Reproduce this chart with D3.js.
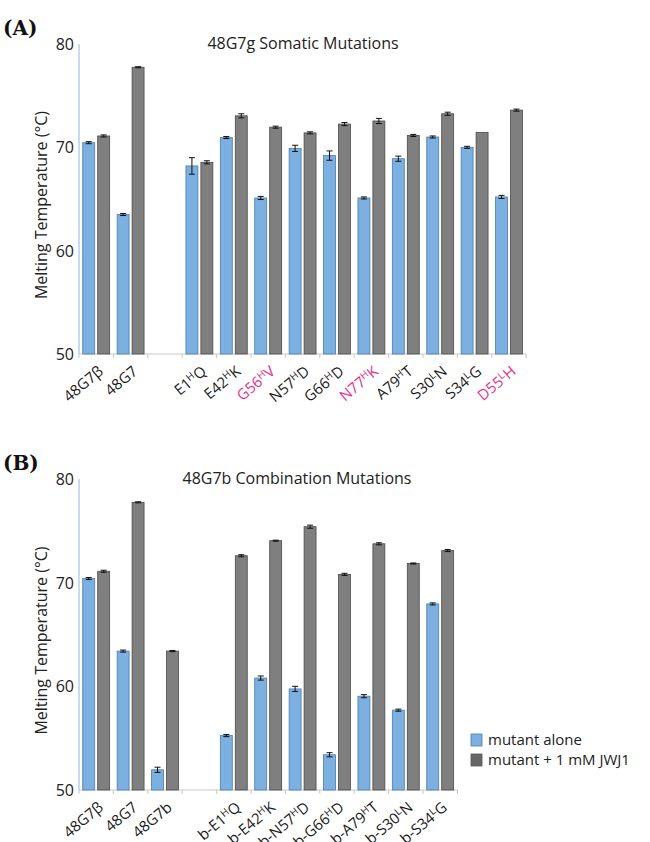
<!DOCTYPE html>
<html>
<head>
<meta charset="utf-8">
<script src="https://cdn.jsdelivr.net/npm/d3@7"></script>
<style>
  body { margin: 0; background: #fff; }
  text { font-family: "Open Sans", sans-serif; fill: #222; }
</style>
</head>
<body>
<svg id="chart" width="650" height="842"></svg>
<script>
// "^" marks the next character as superscript
const seriesNames = ["mutant alone", "mutant + 1 mM JWJ1"];
const yTicks = [50, 60, 70, 80];

const catsA = ["48G7β", "48G7", "", "E1^HQ", "E42^HK", "G56^HV", "N57^HD", "G66^HD", "N77^HK", "A79^HT", "S30^LN", "S34^LG", "D55^LH"];
const pinkA = ["G56^HV", "N77^HK", "D55^LH"];
const aloneA = [70.45, 63.5, null, 68.2, 70.95, 65.1, 69.9, 69.2, 65.1, 68.9, 71.0, 70.0, 65.2];
const jwjA = [71.1, 77.75, null, 68.55, 73.05, 71.95, 71.4, 72.25, 72.55, 71.15, 73.25, 71.45, 73.6];
const errAloneA = [0.1, 0.1, null, 0.8, 0.1, 0.15, 0.3, 0.45, 0.1, 0.25, 0.1, 0.1, 0.15];
const errJwjA = [0.1, 0.05, null, 0.15, 0.2, 0.1, 0.1, 0.15, 0.25, 0.1, 0.15, 0, 0.1];

const catsB = ["48G7β", "48G7", "48G7b", "", "b-E1^HQ", "b-E42^HK", "b-N57^HD", "b-G66^HD", "b-A79^HT", "b-S30^LN", "b-S34^LG"];
const aloneB = [70.4, 63.4, 51.95, null, 55.25, 60.8, 59.75, 53.4, 59.05, 57.7, 67.95];
const jwjB = [71.1, 77.75, 63.4, null, 72.6, 74.05, 75.4, 70.8, 73.75, 71.85, 73.1];
const errAloneB = [0.1, 0.1, 0.25, null, 0.1, 0.2, 0.25, 0.2, 0.15, 0.1, 0.1];
const errJwjB = [0.1, 0.05, 0.05, null, 0.1, 0.05, 0.15, 0.1, 0.1, 0.05, 0.1];

const blue = "#7cb0e0", blueStroke = "#4d7ca8";
const grey = "#7f7f7f", greyStroke = "#4a4a4a";
const pink = "#e8308a";

const svg = d3.select("#chart");

function addLabel(sel, label) {
  const parts = label.split("^");
  sel.append("tspan").text(parts[0]);
  if (parts.length > 1) {
    sel.append("tspan").attr("font-size", "10px").attr("dy", -5).text(parts[1][0]);
    sel.append("tspan").attr("dy", 5).text(parts[1].slice(1));
  }
}

function drawPanel(cfg) {
  const g = svg.append("g");
  const step = 34.4;
  const x = d3.scaleBand().domain(cfg.cats).range([cfg.left, cfg.left + step * cfg.cats.length]);
  const xs = d3.scaleBand().domain([0, 1]).range([0, x.bandwidth()]).paddingInner(0.2).paddingOuter(0.25);
  const y = d3.scaleLinear().domain([50, 80]).range([cfg.bottom, cfg.top]);

  // panel letter and title
  g.append("text").attr("x", 3).attr("y", cfg.top - 9)
    .style("font-family", "'DejaVu Serif', serif").attr("font-weight", "bold").attr("font-size", "20px")
    .style("fill", "#111").text(cfg.letter);
  g.append("text").attr("x", cfg.titleX).attr("y", cfg.top + 5).attr("text-anchor", "middle")
    .attr("font-size", "16px").text(cfg.title);

  // y axis
  g.append("line").attr("x1", cfg.left).attr("x2", cfg.left).attr("y1", y(80)).attr("y2", y(50))
    .attr("stroke", "#8fb8e2").attr("stroke-width", 1);
  g.selectAll(".yt").data(yTicks).join("text")
    .attr("x", cfg.left - 5).attr("y", d => y(d) + 6).attr("text-anchor", "end")
    .attr("font-size", "16px").text(d => d);
  g.append("text")
    .attr("transform", `translate(47,${(cfg.top + cfg.bottom) / 2 + 6}) rotate(-90)`)
    .attr("text-anchor", "middle").attr("font-size", "16px")
    .text("Melting Temperature (°C)");

  // x axis baseline and ticks at slot edges
  const [x0, x1] = x.range();
  g.append("line").attr("x1", x0).attr("x2", x1).attr("y1", cfg.bottom).attr("y2", cfg.bottom)
    .attr("stroke", "#c8c8c8");
  g.selectAll(".xt").data(d3.range(cfg.cats.length + 1)).join("line")
    .attr("x1", i => x0 + i * x.step()).attr("x2", i => x0 + i * x.step())
    .attr("y1", cfg.bottom).attr("y2", cfg.bottom + 4).attr("stroke", "#c8c8c8");

  // bars
  const series = [
    { vals: cfg.alone, err: cfg.errAlone, fill: blue, stroke: blueStroke },
    { vals: cfg.jwj, err: cfg.errJwj, fill: grey, stroke: greyStroke }
  ];
  series.forEach((s, si) => {
    const data = cfg.cats.map((c, i) => ({ c, v: s.vals[i], e: s.err[i] })).filter(d => d.v != null);
    g.selectAll(null).data(data).join("rect")
      .attr("x", d => x(d.c) + xs(si)).attr("width", xs.bandwidth())
      .attr("y", d => y(d.v)).attr("height", d => y(50) - y(d.v))
      .attr("fill", s.fill).attr("stroke", s.stroke).attr("stroke-width", 0.8);
    const eb = g.selectAll(null).data(data.filter(d => d.e > 0)).join("g")
      .attr("stroke", "#111").attr("stroke-width", 1);
    const cx = d => x(d.c) + xs(si) + xs.bandwidth() / 2;
    eb.append("line").attr("x1", cx).attr("x2", cx).attr("y1", d => y(d.v + d.e)).attr("y2", d => y(d.v - d.e));
    eb.append("line").attr("x1", d => cx(d) - 3).attr("x2", d => cx(d) + 3).attr("y1", d => y(d.v + d.e)).attr("y2", d => y(d.v + d.e));
    eb.append("line").attr("x1", d => cx(d) - 3).attr("x2", d => cx(d) + 3).attr("y1", d => y(d.v - d.e)).attr("y2", d => y(d.v - d.e));
  });

  // category labels
  g.selectAll(".xl").data(cfg.cats.filter(c => c !== "")).join("text")
    .attr("transform", d => `translate(${x(d) + x.bandwidth() / 2 + 8},${cfg.bottom + 19}) rotate(-40)`)
    .attr("text-anchor", "end").attr("font-size", "15px")
    .style("fill", d => cfg.pink.includes(d) ? pink : "#1a1a1a")
    .each(function (d) { addLabel(d3.select(this), d); });
  return g;
}

drawPanel({
  letter: "(A)", title: "48G7g Somatic Mutations", titleX: 303,
  cats: catsA, pink: pinkA, alone: aloneA, jwj: jwjA, errAlone: errAloneA, errJwj: errJwjA,
  left: 79, top: 44, bottom: 354
});
drawPanel({
  letter: "(B)", title: "48G7b Combination Mutations", titleX: 297,
  cats: catsB, pink: [], alone: aloneB, jwj: jwjB, errAlone: errAloneB, errJwj: errJwjB,
  left: 79, top: 479, bottom: 790
});

// legend
const legend = svg.append("g").attr("transform", "translate(471,734)");
const legendColors = [[blue, blueStroke], ["#666", "#555"]];
seriesNames.forEach((name, i) => {
  legend.append("rect").attr("x", 0).attr("y", i * 20).attr("width", 11).attr("height", 12)
    .attr("fill", legendColors[i][0]).attr("stroke", legendColors[i][1]).attr("stroke-width", 0.8);
  legend.append("text").attr("x", 17).attr("y", i * 20 + 11).attr("font-size", "15px").text(name);
});
</script>
</body>
</html>
